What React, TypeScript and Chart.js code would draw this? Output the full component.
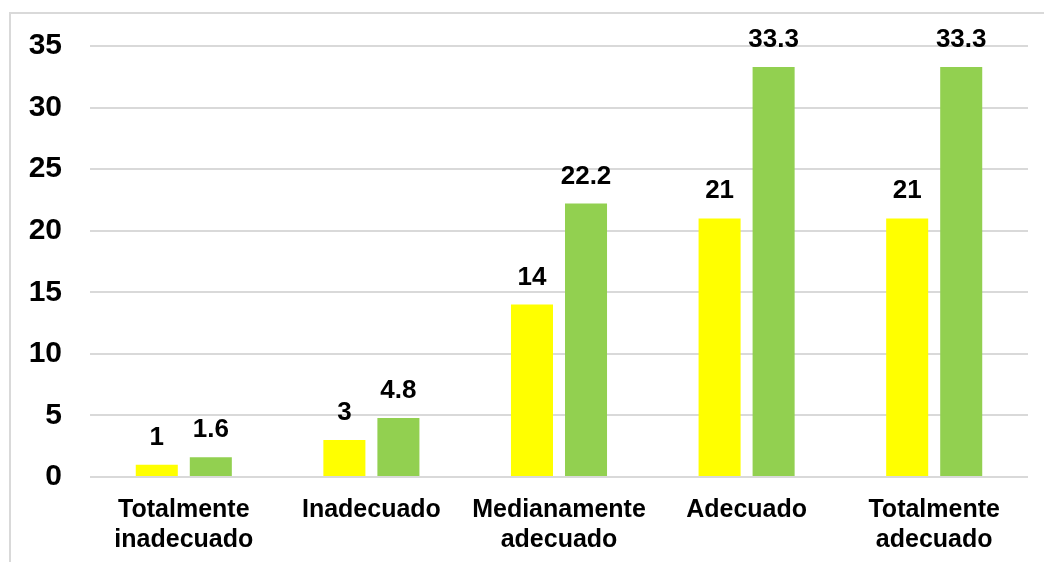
import React, { useEffect, useRef } from "react";
import { Chart, registerables } from "chart.js";

Chart.register(...registerables);

const categories: string[][] = [
  ["Totalmente", "inadecuado"],
  ["Inadecuado"],
  ["Medianamente", "adecuado"],
  ["Adecuado"],
  ["Totalmente", "adecuado"],
];
const countValues = [1, 3, 14, 21, 21];
const percentValues = [1.6, 4.8, 22.2, 33.3, 33.3];
const yTicks = [0, 5, 10, 15, 20, 25, 30, 35];

const FONT = "'Liberation Sans', Arial, sans-serif";

// Light frame around the chart block
const framePlugin = {
  id: "frame",
  beforeDraw(chart: any) {
    const ctx = chart.ctx;
    ctx.save();
    ctx.strokeStyle = "#d9d9d9";
    ctx.lineWidth = 2;
    ctx.strokeRect(10, 13, chart.width + 20, chart.height + 20);
    ctx.restore();
  },
};

// Value labels above each bar
const valueLabels = {
  id: "valueLabels",
  afterDatasetsDraw(chart: any) {
    const ctx = chart.ctx;
    ctx.save();
    ctx.font = `bold 26px ${FONT}`;
    ctx.fillStyle = "#000000";
    ctx.textAlign = "center";
    ctx.textBaseline = "alphabetic";
    chart.data.datasets.forEach((ds: any, di: number) => {
      const meta = chart.getDatasetMeta(di);
      meta.data.forEach((bar: any, i: number) => {
        ctx.fillText(String(ds.data[i]), bar.x, bar.y - 20);
      });
    });
    ctx.restore();
  },
};

export default function App() {
  const canvasRef = useRef<HTMLCanvasElement | null>(null);

  useEffect(() => {
    if (!canvasRef.current) return;
    const chart = new Chart(canvasRef.current, {
      type: "bar",
      data: {
        labels: categories,
        datasets: [
          {
            label: "n",
            data: countValues,
            backgroundColor: "#FFFF00",
            categoryPercentage: 0.576,
            barPercentage: 0.778,
          },
          {
            label: "%",
            data: percentValues,
            backgroundColor: "#92D050",
            categoryPercentage: 0.576,
            barPercentage: 0.778,
          },
        ],
      },
      options: {
        responsive: false,
        animation: false,
        layout: { padding: { top: 44, right: 16, left: 0, bottom: 0 } },
        plugins: {
          legend: { display: false },
          tooltip: { enabled: false },
        },
        scales: {
          x: {
            grid: { display: false, drawTicks: false },
            border: { display: false },
            ticks: {
              color: "#000000",
              padding: 18,
              maxRotation: 0,
              autoSkip: false,
              font: { family: FONT, size: 25, weight: "bold", lineHeight: "30px" },
            },
            afterFit(scale: any) {
              scale.height = 85;
            },
          },
          y: {
            min: 0,
            max: 35,
            afterBuildTicks(scale: any) {
              scale.ticks = yTicks.map((v) => ({ value: v }));
            },
            grid: { color: "#d9d9d9", lineWidth: 2, drawTicks: false },
            border: { display: false },
            ticks: {
              color: "#000000",
              padding: 28,
              font: { family: FONT, size: 30, weight: "bold" },
            },
            afterFit(scale: any) {
              scale.width = 90;
            },
          },
        },
      },
      plugins: [framePlugin, valueLabels],
    });
    return () => chart.destroy();
  }, []);

  return (
    <div style={{ position: "fixed", left: 0, top: 0, width: 1044, height: 562, background: "#ffffff" }}>
      <canvas ref={canvasRef} width={1044} height={562} style={{ display: "block" }} />
    </div>
  );
}
